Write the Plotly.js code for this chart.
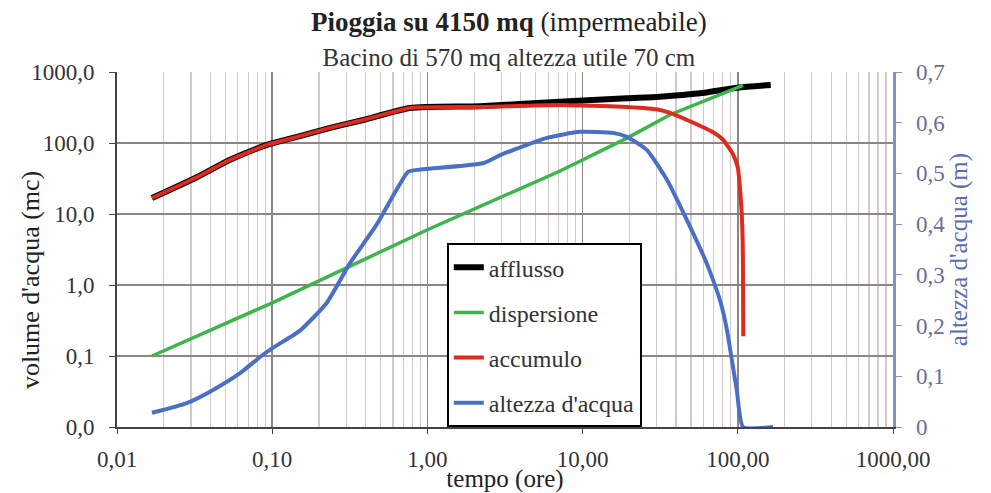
<!DOCTYPE html>
<html>
<head>
<meta charset="utf-8">
<script src="https://cdn.plot.ly/plotly-3.0.1.min.js"></script>
<style>html,body{margin:0;padding:0;background:#fff;}#chart{width:991px;height:493px;}</style>
</head>
<body>
<div id="chart"></div>
<script>
// ---- data ----
const tAfflusso = [0.0168, 0.0327, 0.0535, 0.0926, 0.1446, 0.236, 0.385, 0.773, 2.18, 7.1, 19.3, 31.5, 57, 99, 163];
const vAfflusso = [16.8, 33, 58, 94, 122, 163, 211, 311, 330, 382, 427, 449, 501, 601, 656];

const tDispersione = [0.0168, 0.1, 1, 7.1, 19.3, 36.6, 108];
const vDispersione = [0.1, 0.56, 6.0, 40, 117, 250, 650];

const tAccumulo = [0.0168, 0.0327, 0.0535, 0.0926, 0.1446, 0.236, 0.385, 0.773, 2.18, 7.1, 19.3, 31.5, 36.6, 57, 68, 80, 93, 100, 103, 106, 107.5, 108, 108.5];
const vAccumulo = [16.8, 33, 58, 94, 122, 163, 211, 311, 321, 343, 321, 292, 265, 175, 145, 112, 70, 45, 25, 10.3, 4.3, 1.5, 0.19];

const tAltezza = [0.0168, 0.0282, 0.0416, 0.062, 0.0834, 0.101, 0.151, 0.225, 0.317, 0.473, 0.75, 0.857, 2.28, 2.94, 3.56, 5.9, 9.6, 15.7, 19.3, 26, 35, 47, 63, 76.8, 84.7, 93.5, 98.8, 108, 169];
const hAltezza = [0.028, 0.047, 0.073, 0.106, 0.138, 0.156, 0.19, 0.245, 0.323, 0.40, 0.503, 0.507, 0.52, 0.536, 0.546, 0.57, 0.582, 0.58, 0.572, 0.546, 0.487, 0.408, 0.323, 0.25, 0.195, 0.115, 0.07, 0, 0];

const seriesNames = ["afflusso", "dispersione", "accumulo", "altezza d'acqua"];

const xTickVals = [0.01, 0.1, 1, 10, 100, 1000];
const xTickText = ["0,01", "0,10", "1,00", "10,00", "100,00", "1000,00"];
const yTickVals = [0.01, 0.1, 1, 10, 100, 1000];
const yTickText = ["0,0", "0,1", "1,0", "10,0", "100,0", "1000,0"];
const y2TickVals = [0, 0.1, 0.2, 0.3, 0.4, 0.5, 0.6, 0.7];
const y2TickText = ["0", "0,1", "0,2", "0,3", "0,4", "0,5", "0,6", "0,7"];

const titleMain = "<b>Pioggia su 4150 mq</b> (impermeabile)";
const titleSub = "Bacino di 570 mq altezza utile 70 cm";
const xTitle = "tempo (ore)";
const yTitle = "volume d'acqua (mc)";
const y2Title = "altezza d'acqua (m)";

// ---- chart ----
const FONT = "Liberation Serif, Times New Roman, serif";
const GRID = "#8e8480";

const traces = [
  {x: tAfflusso, y: vAfflusso, name: seriesNames[0], mode: "lines", legendgroup: "a",
   line: {color: "#000000", width: 6, shape: "spline", smoothing: 0.6}},
  {x: tDispersione, y: vDispersione, name: seriesNames[1], mode: "lines", legendgroup: "b",
   line: {color: "#3cb54a", width: 3.5}},
  {x: tAccumulo, y: vAccumulo, name: seriesNames[2], mode: "lines", legendgroup: "c",
   line: {color: "#de2a20", width: 4, shape: "spline", smoothing: 0.5}},
  {x: tAltezza, y: hAltezza, name: seriesNames[3], mode: "lines", yaxis: "y2", legendgroup: "d",
   line: {color: "#4a6fc6", width: 4, shape: "spline", smoothing: 0.5}}
];

const layout = {
  width: 991, height: 493,
  margin: {l: 117, r: 98, t: 72, b: 66},
  paper_bgcolor: "#ffffff", plot_bgcolor: "#ffffff",
  font: {family: FONT, size: 23, color: "#333333"},
  title: {
    text: titleMain + "<br><span style='font-size:25px;color:#333333'>" + titleSub + "</span>",
    font: {family: FONT, size: 27, color: "#222222"},
    x: 0.505, xanchor: "center", xref: "paper",
    y: 0.937, yanchor: "middle", yref: "container"
  },
  showlegend: true,
  legend: {
    x: 0.425, y: 0.518, xanchor: "left", yanchor: "top",
    bgcolor: "#ffffff", bordercolor: "#000000", borderwidth: 2,
    font: {family: FONT, size: 24, color: "#333333"},
    traceorder: "grouped", tracegroupgap: 11
  },
  xaxis: {
    type: "log", range: [-2, 3],
    tickmode: "array", tickvals: xTickVals, ticktext: xTickText,
    ticks: "outside", ticklen: 5, tickcolor: "#444", ticklabelstandoff: 5,
    showline: true, linecolor: "#4a4040", linewidth: 2,
    showgrid: true, gridcolor: GRID, gridwidth: 1.5,
    minor: {dtick: "D1", showgrid: true, gridcolor: "#d2cac8", gridwidth: 1.2, ticks: ""},
    zeroline: false,
    title: {text: xTitle, font: {family: FONT, size: 25, color: "#222222"}, standoff: 0}
  },
  yaxis: {
    type: "log", range: [-2, 3],
    tickmode: "array", tickvals: yTickVals, ticktext: yTickText,
    ticks: "outside", ticklen: 6, tickcolor: "#444", ticklabelstandoff: 10,
    showline: true, linecolor: "#4a4040", linewidth: 2,
    showgrid: true, gridcolor: GRID, gridwidth: 2,
    zeroline: false
  },
  yaxis2: {
    overlaying: "y", side: "right", range: [0, 0.7],
    tickmode: "array", tickvals: y2TickVals, ticktext: y2TickText,
    ticks: "outside", ticklen: 6, tickcolor: "#7f93c8", ticklabelstandoff: 10,
    tickfont: {family: FONT, size: 23, color: "#6a6d98"},
    showline: true, linecolor: "#7d93cc", linewidth: 2.5,
    showgrid: false, zeroline: false,
    title: {text: y2Title, font: {family: FONT, size: 25, color: "#5b6cb0"}, standoff: 4}
  },
  annotations: [
    {text: yTitle, xref: "paper", yref: "paper", x: -0.112, y: 0.414,
     xanchor: "center", yanchor: "middle", textangle: -90, showarrow: false,
     font: {family: FONT, size: 26, color: "#222222"}}
  ]
};

Plotly.newPlot("chart", traces, layout, {staticPlot: true, displayModeBar: false});
</script>
</body>
</html>
